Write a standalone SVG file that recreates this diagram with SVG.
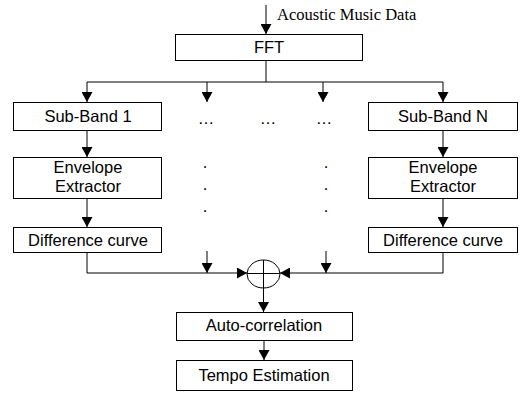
<svg xmlns="http://www.w3.org/2000/svg" width="523" height="394" viewBox="0 0 523 394">
<style>
.box{fill:#fff;stroke:#000;stroke-width:1}
.ln{fill:none;stroke:#000;stroke-width:1}
.t{font-family:"Liberation Sans",Arial,sans-serif;font-size:16.5px;fill:#000;text-anchor:middle}
.s{font-family:"Liberation Serif","Times New Roman",serif;font-size:16.5px;fill:#000}
</style>
<defs>
<marker id="ah" viewBox="0 0 10 11" markerWidth="10" markerHeight="11" refX="10" refY="5.5" orient="auto" markerUnits="userSpaceOnUse">
<path d="M0,0 L10,5.5 L0,11 z" fill="#000"/>
</marker>
</defs>
<rect width="523" height="394" fill="#fff"/>
<g id="connectors">
<line class="ln" x1="266" y1="5" x2="266" y2="34" marker-end="url(#ah)"/>
<polyline class="ln" points="266,61 266,82"/>
<polyline class="ln" points="87,82 443,82"/>
<line class="ln" x1="87" y1="82" x2="87" y2="102" marker-end="url(#ah)"/>
<line class="ln" x1="207" y1="82" x2="207" y2="102" marker-end="url(#ah)"/>
<line class="ln" x1="323" y1="82" x2="323" y2="102" marker-end="url(#ah)"/>
<line class="ln" x1="443" y1="82" x2="443" y2="102" marker-end="url(#ah)"/>
<line class="ln" x1="87" y1="131" x2="87" y2="157" marker-end="url(#ah)"/>
<line class="ln" x1="443" y1="131" x2="443" y2="157" marker-end="url(#ah)"/>
<line class="ln" x1="87" y1="199" x2="87" y2="227" marker-end="url(#ah)"/>
<line class="ln" x1="443" y1="199" x2="443" y2="227" marker-end="url(#ah)"/>
<polyline class="ln" points="87,253 87,273 247,273" marker-end="url(#ah)"/>
<polyline class="ln" points="443,253 443,273 280,273" marker-end="url(#ah)"/>
<line class="ln" x1="207" y1="251" x2="207" y2="273" marker-end="url(#ah)"/>
<line class="ln" x1="326" y1="251" x2="326" y2="273" marker-end="url(#ah)"/>
<line class="ln" x1="263.5" y1="288" x2="263.5" y2="312" marker-end="url(#ah)"/>
<line class="ln" x1="264" y1="341" x2="264" y2="360" marker-end="url(#ah)"/>
</g>
<text class="s" x="277" y="20">Acoustic Music Data</text>
<g id="fft"><rect class="box" x="175.5" y="34.5" width="187" height="26"/><text class="t" x="269" y="53">FFT</text></g>
<g id="sb1"><rect class="box" x="13.5" y="102.5" width="148" height="28"/><text class="t" x="88" y="122">Sub-Band 1</text></g>
<g id="sbn"><rect class="box" x="368.5" y="102.5" width="149" height="28"/><text class="t" x="443" y="122">Sub-Band N</text></g>
<g id="dots">
<text class="t" x="206" y="124">…</text>
<text class="t" x="268" y="124">…</text>
<text class="t" x="324" y="124">…</text>
<text class="t" x="205" y="168">.</text>
<text class="t" x="205" y="190">.</text>
<text class="t" x="205" y="212">.</text>
<text class="t" x="326" y="168">.</text>
<text class="t" x="326" y="190">.</text>
<text class="t" x="326" y="212">.</text>
</g>
<g id="env1"><rect class="box" x="13.5" y="157.5" width="148" height="41"/><text class="t" x="88" y="173">Envelope</text><text class="t" x="88" y="192">Extractor</text></g>
<g id="envn"><rect class="box" x="368.5" y="157.5" width="149" height="41"/><text class="t" x="443" y="173">Envelope</text><text class="t" x="443" y="192">Extractor</text></g>
<g id="diff1"><rect class="box" x="13.5" y="227.5" width="148" height="25"/><text class="t" x="88" y="246">Difference curve</text></g>
<g id="diffn"><rect class="box" x="368.5" y="227.5" width="149" height="25"/><text class="t" x="443" y="246">Difference curve</text></g>
<g id="sum"><ellipse class="ln" cx="263.5" cy="274" rx="16.5" ry="14"/><line class="ln" x1="247" y1="273.5" x2="280" y2="273.5"/><line class="ln" x1="263.5" y1="260" x2="263.5" y2="288"/></g>
<g id="auto"><rect class="box" x="176.5" y="312.5" width="176" height="28"/><text class="t" x="264" y="331">Auto-correlation</text></g>
<g id="tempo"><rect class="box" x="176.5" y="360.5" width="176" height="30"/><text class="t" x="264" y="381">Tempo Estimation</text></g>
</svg>
